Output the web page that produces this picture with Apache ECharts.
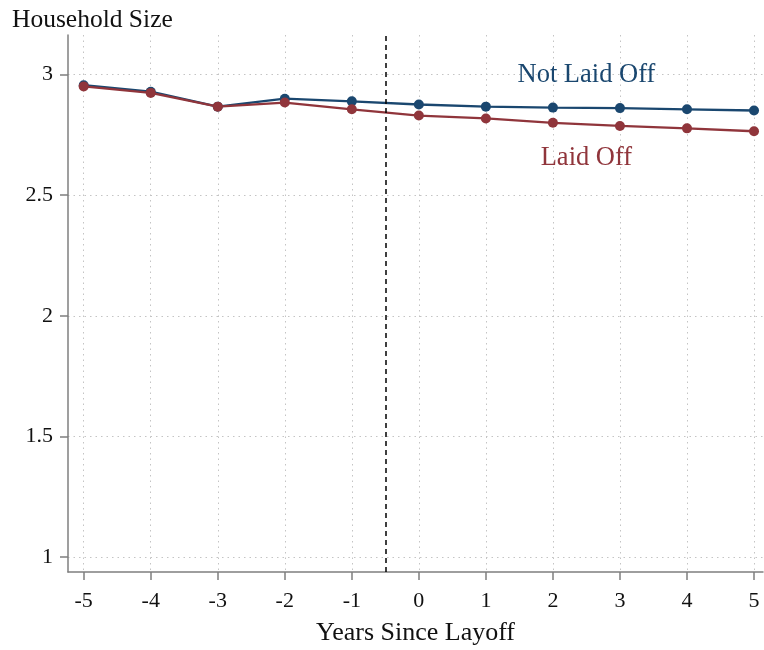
<!DOCTYPE html>
<html>
<head>
<meta charset="utf-8">
<script src="https://cdn.jsdelivr.net/npm/echarts@6/dist/echarts.min.js"></script>
<style>
html,body{margin:0;padding:0;background:#fff;}
#chart{width:764px;height:650px;}
</style>
</head>
<body>
<div id="chart"></div>
<script>
const years = [-5, -4, -3, -2, -1, 0, 1, 2, 3, 4, 5];
const notLaidOff = [2.956, 2.929, 2.867, 2.900, 2.889, 2.876, 2.867, 2.863, 2.861, 2.856, 2.851];
const laidOff   = [2.951, 2.924, 2.867, 2.884, 2.856, 2.830, 2.818, 2.800, 2.787, 2.777, 2.765];
const yTicks = [1, 1.5, 2, 2.5, 3];
const xTicks = [-5, -4, -3, -2, -1, 0, 1, 2, 3, 4, 5];
const layoffLine = -0.5;
const notLaidOffLabel = [2.5, 3.0];
const laidOffLabel = [2.5, 2.655];

const BLUE = '#1a476f';
const RED = '#90353b';
const FONT = '"Liberation Serif", "DejaVu Serif", serif';
const AXIS_GRAY = '#7f7f7f';
const GRID_GRAY = '#c4c4c4';

const chart = echarts.init(document.getElementById('chart'), null, {renderer: 'canvas'});

const pair = (xs, ys) => xs.map((x, i) => [x, ys[i]]);

chart.setOption({
  animation: false,
  backgroundColor: '#fff',
  title: {
    text: 'Household Size',
    left: 7,
    top: 2,
    textStyle: {fontFamily: FONT, fontWeight: 'normal', fontSize: 25.5, color: '#111'}
  },
  grid: {left: 68, right: 1, top: 35, bottom: 78, containLabel: false, outerBoundsMode: 'none'},
  xAxis: {
    type: 'value',
    min: -5.234,
    max: 5.134,
    name: 'Years Since Layoff',
    nameLocation: 'middle',
    nameGap: 48,
    nameTextStyle: {fontFamily: FONT, fontSize: 26, color: '#111'},
    axisLine: {show: true, onZero: false, lineStyle: {color: AXIS_GRAY, width: 1.5}},
    axisTick: {show: true, length: 8, customValues: xTicks, lineStyle: {color: AXIS_GRAY, width: 1.5}},
    axisLabel: {customValues: xTicks, fontFamily: FONT, fontSize: 22, color: '#111', margin: 18},
    splitLine: {show: true, lineStyle: {color: GRID_GRAY, width: 1, type: [1.5, 4]}}
  },
  yAxis: {
    type: 'value',
    min: 0.938,
    max: 3.164,
    axisLine: {show: true, onZero: false, lineStyle: {color: AXIS_GRAY, width: 1.5}},
    axisTick: {show: true, length: 8, customValues: yTicks, lineStyle: {color: AXIS_GRAY, width: 1.5}},
    axisLabel: {customValues: yTicks, fontFamily: FONT, fontSize: 22, color: '#111', margin: 15,
      formatter: v => String(v)},
    splitLine: {show: true, lineStyle: {color: GRID_GRAY, width: 1, type: [1.5, 4]}}
  },
  series: [
    {
      name: 'Not Laid Off',
      type: 'line',
      data: pair(years, notLaidOff),
      symbol: 'circle',
      symbolSize: 10,
      itemStyle: {color: BLUE},
      lineStyle: {color: BLUE, width: 2.3},
      z: 3,
      markLine: {
        silent: true,
        symbol: 'none',
        label: {show: false},
        lineStyle: {color: '#000', type: [5, 4], width: 1.5},
        data: [{xAxis: layoffLine}]
      },
      markPoint: {
        symbol: 'circle',
        symbolSize: 0,
        label: {show: true, position: 'inside', formatter: 'Not Laid Off',
          fontFamily: FONT, fontSize: 26.5, color: BLUE},
        data: [{coord: notLaidOffLabel}]
      }
    },
    {
      name: 'Laid Off',
      type: 'line',
      data: pair(years, laidOff),
      symbol: 'circle',
      symbolSize: 10,
      itemStyle: {color: RED},
      lineStyle: {color: RED, width: 2.3},
      z: 4,
      markPoint: {
        symbol: 'circle',
        symbolSize: 0,
        label: {show: true, position: 'inside', formatter: 'Laid Off',
          fontFamily: FONT, fontSize: 26.5, color: RED},
        data: [{coord: laidOffLabel}]
      }
    }
  ]
});
</script>
</body>
</html>
